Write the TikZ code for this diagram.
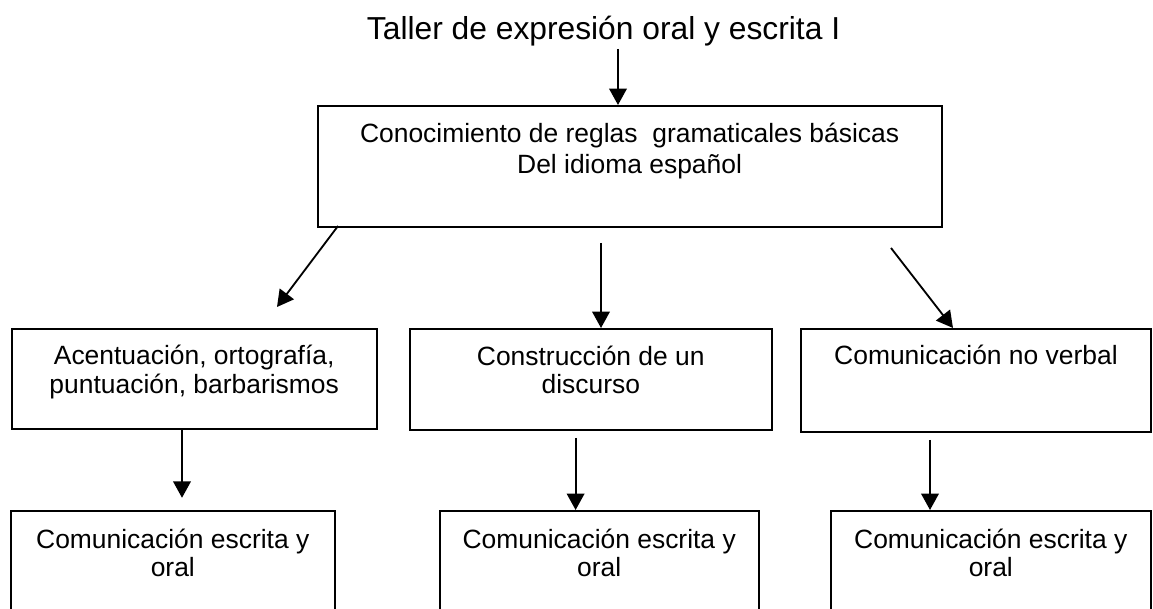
\documentclass[tikz,border=0pt]{standalone}
\usepackage{fontspec}
\setmainfont{Liberation Sans}
\usetikzlibrary{arrows.meta}

\tikzset{
  caja/.style={draw, inner sep=0pt, align=center, anchor=north, text height=1.61cm, text depth=0.9cm},
}

\begin{document}
\begin{tikzpicture}[>={Triangle[length=4.1mm,width=4.4mm]}, line width=1.3pt, font=\fontsize{18.8}{20}\selectfont]

		\useasboundingbox (0,0) rectangle (28.825,15.225);
		\clip (0,0) rectangle (28.825,15.225);

		% --- Titulo
		\node[anchor=base, font=\fontsize{22.6}{26}\selectfont] (titulo) at (15.09,14.225) {Taller de expresión oral y escrita I};

		% --- Caja superior
		\node[caja, minimum width=15.6cm, text height=1.69cm, text depth=1.34cm, font=\fontsize{18.8}{22}\selectfont] (reglas) at (15.74,12.6) {Conocimiento de reglas\ \ gramaticales básicas\\Del idioma español};

		% --- Segunda fila
		\node[caja, minimum width=9.125cm] (acent) at (4.855,7.03) {Acentuación, ortografía,\\puntuación, barbarismos};
		\node[caja, minimum width=9.06cm, text depth=0.92cm] (discurso) at (14.77,7.025) {Construcción de un\\discurso};
		\node[caja, minimum width=8.73cm, text height=0.9cm, text depth=1.67cm] (noverbal) at (24.40,7.025) {Comunicación no verbal};

		% --- Tercera fila (cortada abajo)
		\node[caja, minimum width=8.09cm, text height=1.65cm, text depth=2.1cm] (escrita1) at (4.32,2.475) {Comunicación escrita y\\oral};
		\node[caja, minimum width=7.98cm, text height=1.65cm, text depth=2.1cm] (escrita2) at (14.98,2.475) {Comunicación escrita y\\oral};
		\node[caja, minimum width=7.99cm, text height=1.65cm, text depth=2.1cm] (escrita3) at (24.77,2.475) {Comunicación escrita y\\oral};

		% --- Flechas
		\coordinate (t0) at (15.45,14.0);
		\draw[->] (t0) -- (t0 |- reglas.north);

		\coordinate (d1) at (8.45,9.575);
		\coordinate (d1f) at (6.925,7.55);
		\draw[->] (d1) -- (d1f);

		\coordinate (m1) at (15.025,9.15);
		\draw[->] (m1) -- (m1 |- discurso.north);

		\coordinate (r1) at (22.275,9.025);
		\coordinate (r1f) at (23.825,7.025);
		\draw[->] (r1) -- (r1f);

		\coordinate (b1f) at (4.55,2.78);
		\draw[->] (b1f |- acent.south) -- (b1f);

		\coordinate (b2) at (14.39,4.275);
		\draw[->] (b2) -- (b2 |- escrita2.north);

		\coordinate (b3) at (23.25,4.225);
		\draw[->] (b3) -- (b3 |- escrita3.north);

	\end{tikzpicture}
\end{document}
